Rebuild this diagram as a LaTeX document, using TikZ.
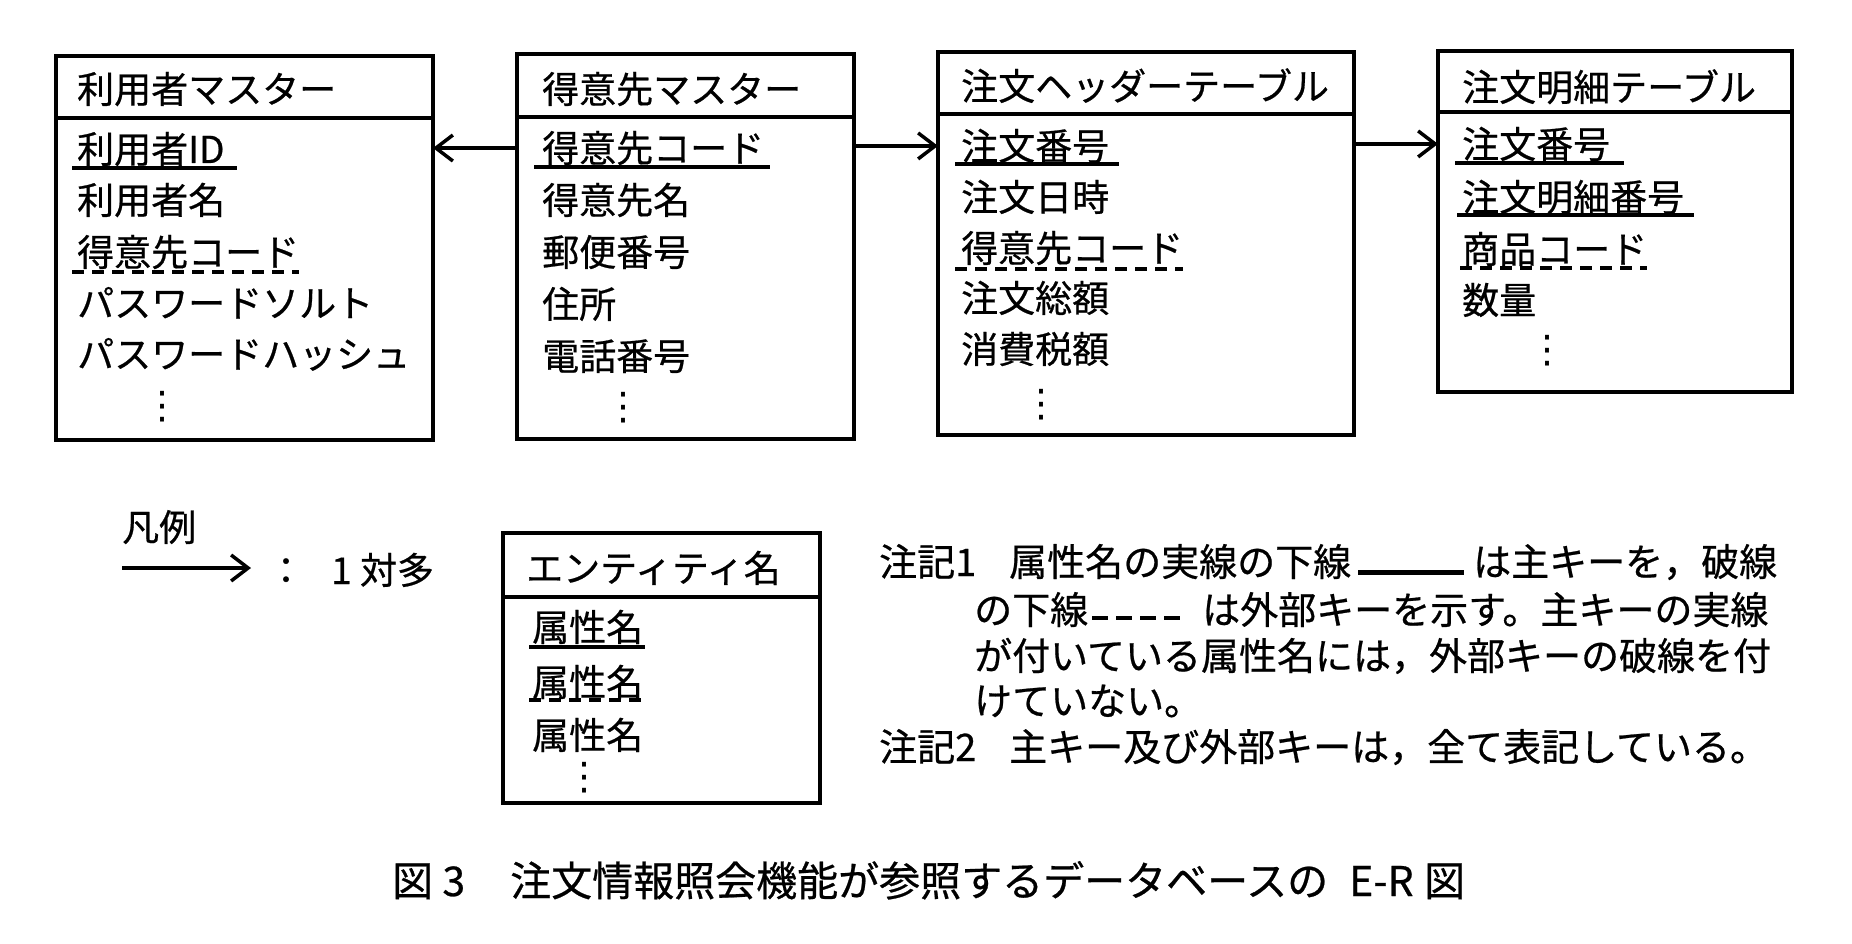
\documentclass[tikz,border=0pt]{standalone}
\usepackage{fontspec}
\setmainfont{Noto Sans CJK JP}[FakeBold=0.6]
\newfontfamily\dejavu{DejaVu Sans}
\usetikzlibrary{arrows.meta,calc}
\tikzset{
  ent/.style={draw, line width=3.5pt, anchor=north west, inner sep=0pt, outer sep=0pt},
  sepline/.style={line width=3.5pt},
  txt/.style={anchor=base west, inner sep=0pt, font=\fontsize{37}{40}\selectfont},
  ntxt/.style={anchor=base west, inner sep=0pt, font=\fontsize{38}{42}\selectfont},
  ctxt/.style={anchor=base west, inner sep=0pt, font=\fontsize{41}{44}\selectfont},
  vdot/.style={inner sep=0pt, font=\dejavu\fontsize{38}{40}\selectfont},
  pk/.style={line width=3.5pt},
  fk/.style={line width=4pt, dash pattern=on 12pt off 8pt},
  rel/.style={line width=3.5pt, -{Straight Barb[length=17pt,width=26pt,line width=3.5pt]}},
}
\newcommand{\dashsample}{\rule[4pt]{16pt}{4pt}\hspace{8pt}\rule[4pt]{16pt}{4pt}\hspace{8pt}\rule[4pt]{16pt}{4pt}\hspace{8pt}\rule[4pt]{16pt}{4pt}}
\begin{document}
\begin{tikzpicture}[x=1pt,y=-1pt]
\fill[white] (0,0) rectangle (1852,944);
\useasboundingbox (0,0) rectangle (1852,944);

% ---------- entity boxes ----------
\node[ent, minimum width=377pt, minimum height=384pt] (e1) at (56,56) {};
\draw[sepline] (e1.west |- 0,118) -- (e1.east |- 0,118);
\node[ent, minimum width=337pt, minimum height=385pt] (e2) at (517,54) {};
\draw[sepline] (e2.west |- 0,117) -- (e2.east |- 0,117);
\node[ent, minimum width=416pt, minimum height=383pt] (e3) at (938,52) {};
\draw[sepline] (e3.west |- 0,114) -- (e3.east |- 0,114);
\node[ent, minimum width=354pt, minimum height=341pt] (e4) at (1438,51) {};
\draw[sepline] (e4.west |- 0,112) -- (e4.east |- 0,112);

% headers
\node[txt] (h1) at (77,103) {利用者マスター};
\node[txt] (h2) at (542,103) {得意先マスター};
\node[txt] (h3) at (961,100) {注文ヘッダーテーブル};
\node[txt] (h4) at (1462,101) {注文明細テーブル};

% box 1
\node[txt] (k11) at (77,163) {利用者ID};
\node[txt] (k12) at (77,214) {利用者名};
\node[txt] (k13) at (77,266) {得意先コード};
\node[txt] (k14) at (77,317) {パスワードソルト};
\node[txt] (k15) at (77,368) {パスワードハッシュ};
\node[vdot] (d1) at (162,407) {⋮};
\draw[pk] ([shift={(-5,5)}]k11.base west) -- ([shift={(12,5)}]k11.base east);
\draw[fk] ([shift={(-5,6)}]k13.base west) -- ([shift={(0,6)}]k13.base east);

% box 2
\node[txt] (k21) at (542,162) {得意先コード};
\node[txt] (k22) at (542,214) {得意先名};
\node[txt] (k23) at (542,266) {郵便番号};
\node[txt] (k24) at (542,318) {住所};
\node[txt] (k25) at (542,370) {電話番号};
\node[vdot] (d2) at (623,408) {⋮};
\draw[pk] ([shift={(-8,5)}]k21.base west) -- ([shift={(6,5)}]k21.base east);

% box 3
\node[txt] (k31) at (961,160) {注文番号};
\node[txt] (k32) at (961,211) {注文日時};
\node[txt] (k33) at (961,262) {得意先コード};
\node[txt] (k34) at (961,312) {注文総額};
\node[txt] (k35) at (961,363) {消費税額};
\node[vdot] (d3) at (1041,405) {⋮};
\draw[pk] ([shift={(-6,4)}]k31.base west) -- ([shift={(10,4)}]k31.base east);
\draw[fk] ([shift={(-6,7)}]k33.base west) -- ([shift={(0,7)}]k33.base east);

% box 4
\node[txt] (k41) at (1462,158) {注文番号};
\node[txt] (k42) at (1462,211) {注文明細番号};
\node[txt] (k43) at (1462,263) {商品コード};
\node[txt] (k44) at (1462,314) {数量};
\node[vdot] (d4) at (1547,351) {⋮};
\draw[pk] ([shift={(-7,5)}]k41.base west) -- ([shift={(14,5)}]k41.base east);
\draw[pk] ([shift={(-5,4)}]k42.base west) -- ([shift={(10,4)}]k42.base east);
\draw[fk] ([shift={(-2,5)}]k43.base west) -- ([shift={(0,5)}]k43.base east);

% relationships
\draw[rel] (e2.west |- k21) -- (e1.east |- k21);
\draw[rel] (e2.east |- k31) -- (e3.west |- k31);
\draw[rel] (e3.east |- k41) -- (e4.west |- k41);

% ---------- legend ----------
\node[txt] (lg) at (122,541) {凡例};
\coordinate (la) at (122,568);
\coordinate (lb) at (251,568);
\draw[rel] (la) -- (lb);
\node[txt, anchor=base] (lc) at (286,584) {：};
\node[txt] (lm) at (331,584) {1 対多};

\node[ent, minimum width=317pt, minimum height=270pt] (e5) at (503,533) {};
\draw[sepline] (e5.west |- 0,597) -- (e5.east |- 0,597);
\node[txt] (h5) at (526,582) {エンティティ名};
\node[txt] (a1) at (532,641) {属性名};
\node[txt] (a2) at (532,696) {属性名};
\node[txt] (a3) at (532,749) {属性名};
\node[vdot] (d5) at (584,778) {⋮};
\draw[pk] ([shift={(-3,6)}]a1.base west) -- ([shift={(2,6)}]a1.base east);
\draw[fk] ([shift={(-3,4)}]a2.base west) -- ([shift={(4,4)}]a2.base east);

% ---------- notes ----------
\node[ntxt] (n1a) at (879,576) {注記1};
\node[ntxt] (n1b) at (1009,576) {属性名の実線の下線\hspace{7pt}\rule[1pt]{106pt}{5pt}\hspace{9pt}は主キーを，破線};
\node[ntxt] (n2) at (974,624) {の下線\hspace{4pt}\dashsample\hspace{22pt}は外部キーを示す。主キーの実線};
\node[ntxt] (n3) at (974,670) {が付いている属性名には，外部キーの破線を付};
\node[ntxt] (n4) at (974,715) {けていない。};
\node[ntxt] (n5a) at (879,761) {注記2};
\node[ntxt] (n5b) at (1009,761) {主キー及び外部キーは，全て表記している。};

% ---------- caption ----------
\node[ctxt] (c1) at (392,896) {図 3};
\node[ctxt] (c2) at (510,896) {注文情報照会機能が参照するデータベースの};
\node[ctxt] (c3) at (1349,896) {E-R};
\node[ctxt] (c4) at (1424,896) {図};
\end{tikzpicture}
\end{document}
